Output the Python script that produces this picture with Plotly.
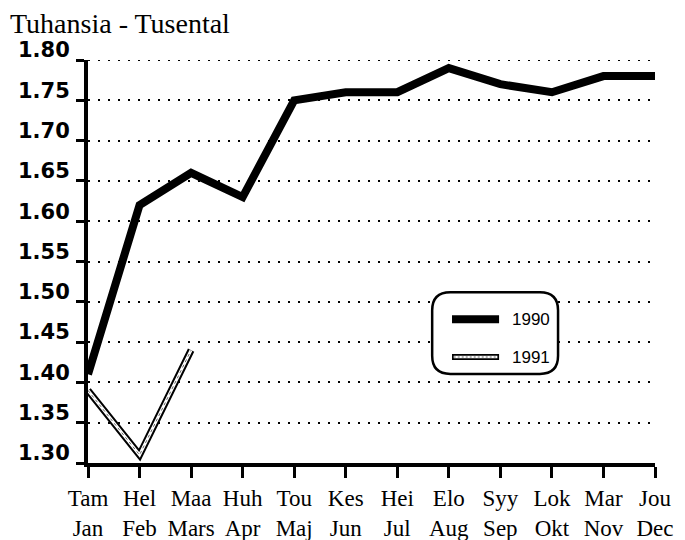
import plotly.graph_objects as go

months_fi = ["Tam", "Hel", "Maa", "Huh", "Tou", "Kes", "Hei", "Elo", "Syy", "Lok", "Mar", "Jou"]
months_sv = ["Jan", "Feb", "Mars", "Apr", "Maj", "Jun", "Jul", "Aug", "Sep", "Okt", "Nov", "Dec"]
values_1990 = [1.41, 1.62, 1.66, 1.63, 1.75, 1.76, 1.76, 1.79, 1.77, 1.76, 1.78, 1.78]
values_1991 = [1.39, 1.31, 1.44]
y_ticks = [1.30, 1.35, 1.40, 1.45, 1.50, 1.55, 1.60, 1.65, 1.70, 1.75, 1.80]

x_all = list(range(len(months_fi)))
tick_text = [f"{a}<br>{b}" for a, b in zip(months_fi, months_sv)]

fig = go.Figure()
fig.add_trace(go.Scatter(x=x_all, y=values_1990, mode="lines",
                         line=dict(color="black", width=8), showlegend=False, cliponaxis=False))
x91 = x_all[:len(values_1991)]
fig.add_trace(go.Scatter(x=x91, y=values_1991, mode="lines",
                         line=dict(color="black", width=7), showlegend=False, cliponaxis=False))
fig.add_trace(go.Scatter(x=x91, y=values_1991, mode="lines",
                         line=dict(color="white", width=3), showlegend=False, cliponaxis=False))
fig.add_trace(go.Scatter(x=x91, y=values_1991, mode="lines",
                         line=dict(color="#666", width=1, dash="3px,3px"), showlegend=False, cliponaxis=False))

fig.update_layout(
    template="none",
    width=677, height=532,
    margin=dict(l=80, r=30, t=52, b=77),
    plot_bgcolor="white", paper_bgcolor="white",
    xaxis=dict(range=[0, 11], tickmode="array", tickvals=x_all, ticktext=tick_text,
               automargin=False,
               showgrid=False, zeroline=False, showline=True, linecolor="black", linewidth=4,
               ticks="outside", ticklen=11, tickwidth=3, tickcolor="black",
               tickfont=dict(family="Liberation Serif", size=23, color="black")),
    yaxis=dict(range=[1.30, 1.80], tickmode="array", tickvals=y_ticks,
               ticktext=[f"{v:.2f}" for v in y_ticks], automargin=False,
               showgrid=True, gridcolor="black", gridwidth=2, griddash="2px,8px",
               zeroline=False, showline=True, linecolor="black", linewidth=4,
               ticks="outside", ticklen=8, tickwidth=3, tickcolor="black",
               ticklabelshift=-10, ticklabelstandoff=2,
               tickfont=dict(family="DejaVu Sans", size=21, color="black", weight="bold")),
)

# top gridline (1.80), drawn like the other dotted gridlines
fig.add_shape(type="line", xref="paper", yref="y", x0=0, x1=1, y0=y_ticks[-1], y1=y_ticks[-1],
              layer="below", line=dict(color="black", width=2, dash="2px,8px"))

# title
fig.add_annotation(text="Tuhansia - Tusental", xref="paper", yref="paper",
                   x=-80/567, y=1 + 52/403, xanchor="left", yanchor="top",
                   yshift=2, showarrow=False,
                   font=dict(family="Liberation Serif", size=28, color="black"))

# legend box (rounded)
x0, x1, y0, y1 = 0.607, 0.829, 0.221, 0.424
rx, ry = 0.032, 0.045
path = (f"M {x0+rx},{y1} L {x1-rx},{y1} Q {x1},{y1} {x1},{y1-ry} "
        f"L {x1},{y0+ry} Q {x1},{y0} {x1-rx},{y0} L {x0+rx},{y0} "
        f"Q {x0},{y0} {x0},{y0+ry} L {x0},{y1-ry} Q {x0},{y1} {x0+rx},{y1} Z")
fig.add_shape(type="path", path=path, xref="paper", yref="paper",
              line=dict(color="black", width=2.5), fillcolor="white")
fig.add_shape(type="line", xref="paper", yref="paper", x0=0.642, x1=0.725, y0=0.357, y1=0.357,
              line=dict(color="black", width=8))
fig.add_shape(type="line", xref="paper", yref="paper", x0=0.642, x1=0.725, y0=0.263, y1=0.263,
              line=dict(color="black", width=6))
fig.add_shape(type="line", xref="paper", yref="paper", x0=0.645, x1=0.722, y0=0.263, y1=0.263,
              line=dict(color="white", width=2.5))
fig.add_shape(type="line", xref="paper", yref="paper", x0=0.645, x1=0.722, y0=0.263, y1=0.263,
              line=dict(color="#666", width=1, dash="2px,2px"))
fig.add_annotation(text="1990", xref="paper", yref="paper", x=0.744, y=0.357,
                   xanchor="left", yanchor="middle", showarrow=False,
                   font=dict(family="Liberation Sans", size=17, color="black"))
fig.add_annotation(text="1991", xref="paper", yref="paper", x=0.744, y=0.263,
                   xanchor="left", yanchor="middle", showarrow=False,
                   font=dict(family="Liberation Sans", size=17, color="black"))

fig.write_html("out.html")
